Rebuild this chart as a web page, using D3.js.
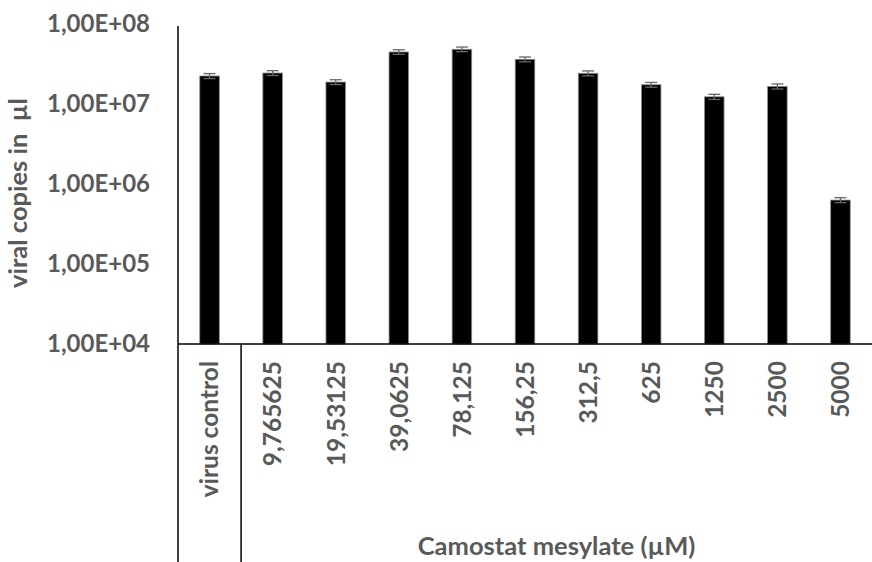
<!DOCTYPE html>
<html>
<head>
<meta charset="utf-8">
<script src="https://cdn.jsdelivr.net/npm/d3@7"></script>
<style>
  body { margin: 0; background: #fff; }
  text { font-family: Lato, "Open Sans", sans-serif; font-weight: bold; fill: #595959; }
</style>
</head>
<body>
<div id="chart"></div>
<script>
// data
var categories = ['virus control', '9,765625', '19,53125', '39,0625', '78,125', '156,25',
                  '312,5', '625', '1250', '2500', '5000'];
var copies = [2.24e7, 2.44e7, 1.88e7, 4.47e7, 4.83e7, 3.62e7, 2.42e7, 1.74e7, 1.23e7, 1.66e7, 6.3e5];
var errors = [1.6e6, 1.7e6, 1.3e6, 3.0e6, 3.2e6, 2.5e6, 1.7e6, 1.2e6, 0.9e6, 1.2e6, 4.5e4];
var y_ticks = [1e4, 1e5, 1e6, 1e7, 1e8];
var y_tick_labels = ['1,00E+04', '1,00E+05', '1,00E+06', '1,00E+07', '1,00E+08'];

var width  = 872;
var height = 562;
var left   = 178;
var top_y  = 24;
var base_y = 344;

var svg = d3.select('#chart')
            .append('svg')
            .attr('width', width)
            .attr('height', height);

// scales
var x_scale = d3.scaleBand()
                .domain(categories)
                .range([left, width])
                .paddingInner(0.69)
                .paddingOuter(0.345);

var y_scale = d3.scaleLog()
                .domain([1e4, 1e8])
                .range([base_y, top_y]);

// y tick labels (no tick marks in the original)
var y_axis = d3.axisLeft(y_scale)
               .tickValues(y_ticks)
               .tickFormat(function(d, i) { return y_tick_labels[i]; })
               .tickSize(0)
               .tickPadding(28);

var gy = svg.append('g')
            .attr('transform', 'translate(' + left + ',0)')
            .call(y_axis);
gy.select('.domain').remove();
gy.selectAll('text')
  .style('font-size', '24px')
  .style('font-family', null);

// bars
svg.selectAll('rect.bar')
   .data(categories)
   .enter()
   .append('rect')
   .attr('class', 'bar')
   .attr('x', function(d) { return x_scale(d); })
   .attr('width', x_scale.bandwidth())
   .attr('y', function(d, i) { return y_scale(copies[i]); })
   .attr('height', function(d, i) { return base_y - y_scale(copies[i]); })
   .attr('fill', '#000')
   .attr('stroke', '#8c8c8c')
   .attr('stroke-width', 0.8);

// error bars
var err = svg.append('g')
             .attr('stroke', '#666')
             .attr('stroke-width', 1.3);
categories.forEach(function(c, i) {
    var cx = x_scale(c) + x_scale.bandwidth() / 2;
    var y1 = y_scale(copies[i] + errors[i]);
    var y0 = y_scale(copies[i] - errors[i]);
    err.append('line').attr('x1', cx).attr('x2', cx).attr('y1', y1).attr('y2', y0);
    err.append('line').attr('x1', cx - 6).attr('x2', cx + 6).attr('y1', y1).attr('y2', y1);
    err.append('line').attr('x1', cx - 6).attr('x2', cx + 6).attr('y1', y0).attr('y2', y0);
});

// axis lines and group divider
svg.append('line')
   .attr('x1', left).attr('x2', left)
   .attr('y1', top_y + 2).attr('y2', height)
   .attr('stroke', '#000').attr('stroke-width', 1.5);
svg.append('line')
   .attr('x1', left).attr('x2', width)
   .attr('y1', base_y).attr('y2', base_y)
   .attr('stroke', '#000').attr('stroke-width', 1.5);
var div_x = (x_scale(categories[0]) + x_scale.bandwidth() + x_scale(categories[1])) / 2;
svg.append('line')
   .attr('x1', div_x).attr('x2', div_x)
   .attr('y1', base_y).attr('y2', height)
   .attr('stroke', '#000').attr('stroke-width', 1.5);

// category labels, rotated
svg.selectAll('text.cat')
   .data(categories)
   .enter()
   .append('text')
   .attr('class', 'cat')
   .attr('transform', function(d) {
       return 'translate(' + (x_scale(d) + x_scale.bandwidth() / 2) + ',' + (base_y + 17) + ') rotate(-90)';
   })
   .attr('text-anchor', 'end')
   .attr('dy', '0.36em')
   .style('font-size', '24.5px')
   .text(function(d) { return d; });

// axis titles
svg.append('text')
   .attr('x', (div_x + width) / 2)
   .attr('y', 546)
   .attr('dy', '0.36em')
   .attr('text-anchor', 'middle')
   .style('font-size', '25.5px')
   .text('Camostat mesylate (µM)');

svg.append('text')
   .attr('transform', 'translate(18,193) rotate(-90)')
   .attr('dy', '0.36em')
   .attr('text-anchor', 'middle')
   .style('font-size', '25.5px')
   .style('white-space', 'pre')
   .text('viral copies in  µl');
</script>
</body>
</html>
